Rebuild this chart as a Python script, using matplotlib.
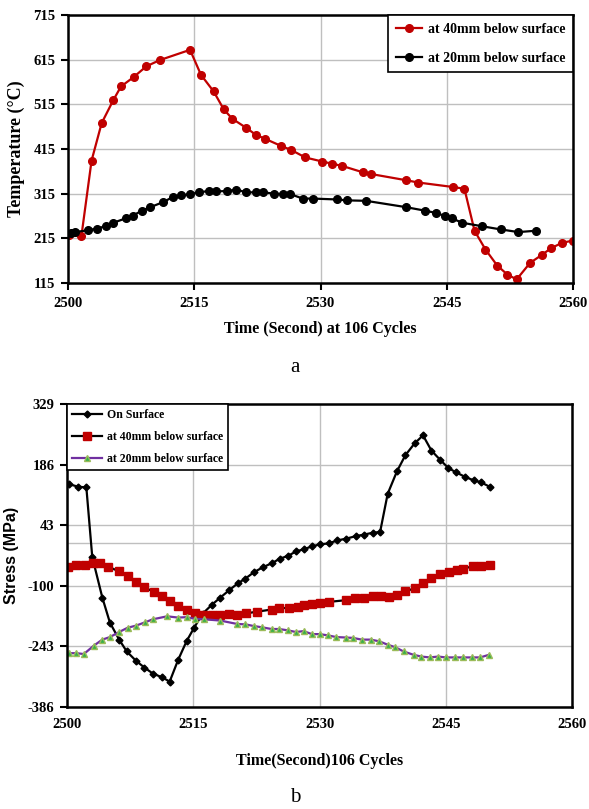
import matplotlib
matplotlib.use("Agg")
import matplotlib.pyplot as plt

plt.rcParams["axes.unicode_minus"] = False

# ---------- Data: panel a (temperature) ----------
t40 = [2500.1, 2501.6, 2502.8, 2504.0, 2505.4, 2506.3, 2507.8, 2509.3, 2510.9, 2514.5,
       2515.8, 2517.3, 2518.5, 2519.5, 2521.2, 2522.3, 2523.4, 2525.3, 2526.5, 2528.2,
       2530.2, 2531.4, 2532.6, 2535.0, 2536.0, 2540.2, 2541.6, 2545.7, 2547.1, 2548.3,
       2549.6, 2551.0, 2552.2, 2553.3, 2554.9, 2556.3, 2557.4, 2558.7, 2560.0]
T40 = [222, 221, 389, 473, 525, 555, 576, 600, 614, 637,
       581, 544, 504, 483, 462, 447, 438, 422, 413, 396,
       387, 382, 377, 363, 359, 345, 340, 330, 326, 232,
       190, 154, 134, 123, 160, 178, 193, 205, 210]

t20 = [2500.3, 2500.8, 2502.4, 2503.4, 2504.5, 2505.4, 2506.9, 2507.7, 2508.8, 2509.8,
       2511.3, 2512.5, 2513.4, 2514.5, 2515.6, 2516.7, 2517.6, 2518.9, 2520.0, 2521.2,
       2522.3, 2523.2, 2524.5, 2525.6, 2526.4, 2527.9, 2529.1, 2532.0, 2533.1, 2535.4,
       2540.1, 2542.4, 2543.7, 2544.8, 2545.6, 2546.8, 2549.2, 2551.4, 2553.5, 2555.6]
T20 = [227, 229, 233, 237, 242, 250, 260, 266, 277, 285,
       296, 308, 311, 314, 318, 321, 320, 321, 324, 318,
       318, 318, 315, 314, 314, 304, 304, 302, 300, 299,
       285, 277, 272, 265, 260, 250, 242, 235, 229, 232]

temp_yticks = [115, 215, 315, 415, 515, 615, 715]
time_xticks = [2500, 2515, 2530, 2545, 2560]

# ---------- Data: panel b (stress) ----------
ts_surf = [2500.2, 2501.3, 2502.3, 2503.0, 2504.2, 2505.1, 2506.2, 2507.1, 2508.2, 2509.2,
           2510.2, 2511.3, 2512.2, 2513.2, 2514.2, 2515.1, 2516.1, 2517.2, 2518.2, 2519.3,
           2520.3, 2521.2, 2522.2, 2523.3, 2524.3, 2525.3, 2526.3, 2527.2, 2528.1, 2529.1,
           2530.1, 2531.1, 2532.1, 2533.1, 2534.3, 2535.3, 2536.3, 2537.2, 2538.1, 2539.2,
           2540.2, 2541.3, 2542.3, 2543.3, 2544.3, 2545.3, 2546.2, 2547.3, 2548.3, 2549.2,
           2550.2]
s_surf = [140, 134, 132, -32, -128, -187, -227, -255, -277, -293,
          -307, -316, -326, -275, -231, -199, -166, -145, -128, -110,
          -94, -83, -68, -56, -47, -36, -29, -19, -14, -7,
          -2, 0, 7, 11, 17, 21, 25, 27, 117, 170,
          208, 236, 255, 219, 198, 178, 168, 157, 149, 144,
          134]

ts_40 = [2500.1, 2501.1, 2502.1, 2503.1, 2503.9, 2504.9, 2506.2, 2507.2, 2508.2, 2509.2,
         2510.3, 2511.3, 2512.2, 2513.2, 2514.2, 2515.2, 2516.2, 2517.2, 2518.2, 2519.2,
         2520.2, 2521.3, 2522.6, 2524.3, 2525.2, 2526.4, 2527.5, 2528.1, 2529.1, 2530.1,
         2531.1, 2533.1, 2534.2, 2535.3, 2536.4, 2537.3, 2538.3, 2539.2, 2540.2, 2541.3,
         2542.3, 2543.3, 2544.3, 2545.4, 2546.3, 2547.0, 2548.2, 2549.2, 2550.2]
s_40 = [-55, -52, -52, -47, -47, -55, -66, -76, -90, -104,
        -114, -124, -136, -148, -158, -164, -168, -169, -169, -166,
        -168, -165, -161, -156, -153, -152, -150, -146, -142, -140,
        -138, -134, -129, -129, -124, -124, -126, -122, -113, -106,
        -94, -82, -71, -68, -62, -60, -54, -54, -52]

ts_20 = [2500.2, 2501.1, 2502.0, 2503.2, 2504.2, 2505.1, 2506.2, 2507.2, 2508.2, 2509.3,
         2510.2, 2511.9, 2513.2, 2514.2, 2515.2, 2516.3, 2518.2, 2520.2, 2521.2, 2522.2,
         2523.2, 2524.3, 2525.2, 2526.2, 2527.2, 2528.1, 2529.1, 2530.0, 2531.0, 2532.0,
         2533.1, 2534.0, 2535.0, 2536.1, 2537.1, 2538.1, 2539.0, 2540.0, 2541.2, 2542.1,
         2543.1, 2544.1, 2545.0, 2546.1, 2547.1, 2548.1, 2549.1, 2550.1]
s_20 = [-259, -259, -261, -241, -227, -221, -209, -199, -194, -186,
        -179, -172, -175, -174, -178, -179, -182, -190, -191, -195,
        -198, -202, -202, -205, -209, -207, -214, -214, -217, -221,
        -222, -223, -227, -227, -231, -239, -245, -255, -263, -267,
        -269, -267, -269, -269, -269, -269, -269, -263]

stress_yticks = [-386, -243, -100, 43, 186, 329]

# ---------- Figure ----------
W, H = 589, 809
fig = plt.figure(figsize=(W / 100, H / 100), dpi=100)

serif = ["Liberation Serif", "DejaVu Serif"]
grid_col = "#bfbfbf"


def style_axes(ax):
    for sp in ax.spines.values():
        sp.set_linewidth(1.8)
        sp.set_color("black")
    ax.grid(True, color=grid_col, linewidth=1.0)
    ax.set_axisbelow(True)
    ax.tick_params(direction="out", length=5, width=1.5, pad=4)


# Panel a
ax1 = fig.add_axes([68 / W, 1 - 283 / H, (573 - 68) / W, (283 - 15) / H])
style_axes(ax1)
ax1.plot(t40, T40, color="#c00000", lw=1.6, marker="o", ms=5.5,
         label="at 40mm below surface")
ax1.plot(t20, T20, color="black", lw=1.6, marker="o", ms=5.5,
         label="at 20mm below surface")
ax1.set_xlim(2500, 2560)
ax1.set_ylim(115, 715)
ax1.set_xticks(time_xticks)
ax1.set_yticks(temp_yticks)
ax1.tick_params(axis="x", pad=5)
for lab in ax1.get_xticklabels() + ax1.get_yticklabels():
    lab.set_fontfamily(serif)
    lab.set_fontweight("bold")
    lab.set_fontsize(10.5)
ax1.set_xlabel("Time (Second) at 106 Cycles", family=serif, weight="bold",
               fontsize=11.5, labelpad=8)
ax1.set_ylabel("Temperature (\u00b0C)", family=serif, weight="bold",
               fontsize=13, labelpad=6)
leg1 = ax1.legend(loc="upper right", frameon=True, fancybox=False,
                  prop={"family": serif, "weight": "bold", "size": 10},
                  handlelength=1.9, borderaxespad=0.0, labelspacing=1.15,
                  handletextpad=0.4, borderpad=0.55)
leg1.get_frame().set_edgecolor("black")
leg1.get_frame().set_linewidth(1.2)
leg1.get_frame().set_alpha(1)

fig.text(295 / W, 1 - 368 / H, "a", ha="center", va="center",
         family=serif, fontsize=15)

# Panel b
ax2 = fig.add_axes([67 / W, 1 - 707 / H, (572 - 67) / W, (707 - 404) / H])
style_axes(ax2)
ax2.axhline(0, color=grid_col, lw=1.0, zorder=0)
ax2.plot(ts_surf, s_surf, color="black", lw=1.6, marker="D", ms=3.5,
         label="On Surface")
ax2.plot(ts_40, s_40, color="black", lw=1.6, marker="s", ms=6,
         markerfacecolor="#c00000", markeredgecolor="#c00000",
         label="at 40mm below surface")
ax2.plot(ts_20, s_20, color="#7030a0", lw=1.6, marker="^", ms=5,
         markerfacecolor="#33b04a", markeredgecolor="#9bbb59",
         label="at 20mm below surface")
ax2.set_xlim(2500, 2560)
ax2.set_ylim(-386, 329)
ax2.set_xticks(time_xticks)
ax2.set_yticks(stress_yticks)
ax2.tick_params(axis="x", length=0, pad=8)
for lab in ax2.get_xticklabels() + ax2.get_yticklabels():
    lab.set_fontfamily(serif)
    lab.set_fontweight("bold")
    lab.set_fontsize(10.5)
ax2.set_xlabel("Time(Second)106 Cycles", family=serif, weight="bold",
               fontsize=11.5, labelpad=16)
ax2.set_ylabel("Stress (MPa)", family=["Liberation Sans", "DejaVu Sans"],
               weight="bold", fontsize=11.5, labelpad=6)
leg2 = ax2.legend(loc="upper left", frameon=True, fancybox=False,
                  prop={"family": serif, "weight": "bold", "size": 8.5},
                  handlelength=2.6, borderaxespad=0.0, labelspacing=0.85,
                  handletextpad=0.4)
leg2.get_frame().set_edgecolor("black")
leg2.get_frame().set_linewidth(1.2)
leg2.get_frame().set_alpha(1)

fig.text(295 / W, 1 - 797 / H, "b", ha="center", va="center",
         family=serif, fontsize=15)

fig.savefig("out.png", dpi=100)
